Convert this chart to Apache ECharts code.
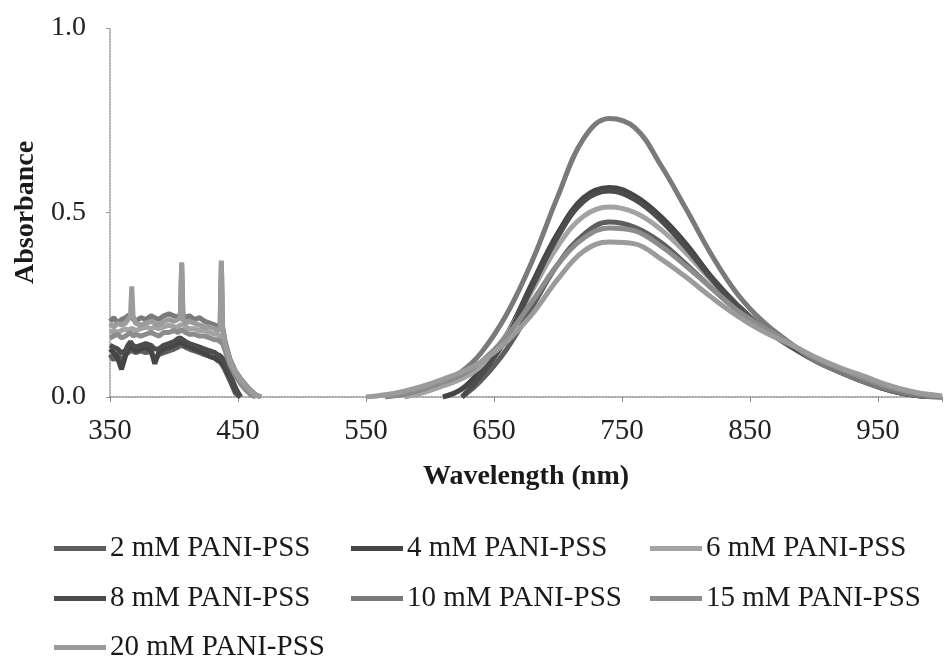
<!DOCTYPE html>
<html>
<head>
<meta charset="utf-8">
<script src="https://cdn.jsdelivr.net/npm/echarts@6/dist/echarts.min.js"></script>
<style>
html,body{margin:0;padding:0;background:#fff;}
#chart{width:945px;height:664px;}
</style>
</head>
<body>
<div id="chart"></div>
<script>
// ---- DATA ----
const seriesNames = ['2 mM PANI-PSS','4 mM PANI-PSS','6 mM PANI-PSS','8 mM PANI-PSS','10 mM PANI-PSS','15 mM PANI-PSS','20 mM PANI-PSS'];
const yTicks = [0, 0.5, 1.0];
const xTicks = [350, 450, 550, 650, 750, 850, 950];

// UV region wavelengths (nm)
const wlLeft = [350,353,356,359,362,364,366,367,368,370,374,378,382,385,388,392,396,400,403,405,406,407,409,412,416,420,424,428,432,434,436,437,438,440,444,448,452,456,460,464,468];
// Vis/NIR region wavelengths (nm)
const wlRight = [550,565,580,595,610,625,640,660,680,700,720,740,760,780,800,820,840,860,880,900,920,940,960,980,1000];

const left2mM  = [0.115,0.10,0.12,0.095,0.115,0.12,0.125,0.13,0.125,0.12,0.125,0.12,0.125,0.10,0.115,0.12,0.125,0.13,0.135,0.14,0.14,0.138,0.135,0.13,0.125,0.12,0.115,0.11,0.105,0.10,0.095,0.09,0.085,0.072,0.042,0.01,0,null,null,null,null];
const left4mM  = [0.13,0.12,0.105,0.075,0.11,0.13,0.135,0.14,0.13,0.125,0.13,0.135,0.125,0.09,0.12,0.13,0.135,0.14,0.145,0.15,0.148,0.145,0.14,0.138,0.13,0.125,0.118,0.11,0.105,0.10,0.098,0.095,0.09,0.08,0.05,0.018,0,null,null,null,null];
const left6mM  = [0.175,0.18,0.175,0.18,0.185,0.18,0.185,0.19,0.185,0.18,0.185,0.19,0.185,0.19,0.185,0.19,0.195,0.19,0.19,0.195,0.20,0.195,0.19,0.185,0.185,0.18,0.18,0.175,0.17,0.17,0.165,0.17,0.16,0.135,0.09,0.062,0.04,0.022,0.009,0,null];
const left8mM  = [0.14,0.135,0.13,0.12,0.125,0.14,0.15,0.145,0.14,0.135,0.14,0.145,0.14,0.13,0.13,0.14,0.145,0.15,0.158,0.16,0.158,0.155,0.15,0.145,0.14,0.135,0.13,0.125,0.12,0.115,0.112,0.11,0.105,0.092,0.06,0.025,0,null,null,null,null];
const left10mM = [0.205,0.215,0.20,0.21,0.215,0.22,0.225,0.215,0.21,0.205,0.215,0.21,0.22,0.215,0.21,0.22,0.225,0.22,0.215,0.225,0.36,0.225,0.215,0.22,0.21,0.215,0.205,0.20,0.195,0.19,0.195,0.365,0.19,0.15,0.10,0.07,0.05,0.033,0.018,0.006,0];
const left15mM = [0.16,0.165,0.17,0.16,0.165,0.17,0.175,0.17,0.165,0.17,0.165,0.17,0.175,0.17,0.165,0.175,0.175,0.18,0.175,0.18,0.185,0.18,0.175,0.17,0.17,0.165,0.165,0.16,0.155,0.155,0.15,0.15,0.145,0.125,0.085,0.058,0.036,0.019,0.006,0,null];
const left20mM = [0.20,0.19,0.20,0.195,0.20,0.21,0.22,0.30,0.22,0.20,0.195,0.20,0.205,0.20,0.195,0.205,0.21,0.205,0.21,0.215,0.365,0.21,0.20,0.205,0.20,0.195,0.19,0.19,0.185,0.18,0.185,0.37,0.18,0.145,0.095,0.068,0.048,0.03,0.016,0.005,0];

const right2mM  = [null,null,null,null,null,0,0.045,0.13,0.245,0.36,0.44,0.474,0.46,0.42,0.36,0.295,0.235,0.185,0.14,0.10,0.068,0.04,0.017,0.004,0];
const right4mM  = [null,null,null,null,0,0.022,0.075,0.17,0.31,0.445,0.54,0.568,0.545,0.49,0.415,0.325,0.25,0.19,0.145,0.10,0.07,0.04,0.018,0.004,0];
const right6mM  = [null,null,0,0.012,0.03,0.05,0.085,0.17,0.29,0.41,0.49,0.515,0.50,0.455,0.39,0.315,0.245,0.19,0.145,0.10,0.07,0.045,0.02,0.006,0];
const right8mM  = [null,null,null,null,null,0,0.06,0.16,0.30,0.435,0.53,0.558,0.535,0.48,0.405,0.32,0.245,0.188,0.143,0.10,0.068,0.04,0.017,0.004,0];
const right10mM = [null,0,0.008,0.022,0.042,0.07,0.12,0.225,0.37,0.545,0.70,0.755,0.73,0.63,0.51,0.385,0.28,0.205,0.15,0.10,0.068,0.04,0.018,0.005,0];
const right15mM = [null,0,0.01,0.022,0.04,0.06,0.095,0.165,0.26,0.36,0.43,0.458,0.45,0.41,0.355,0.295,0.235,0.19,0.148,0.108,0.078,0.05,0.026,0.01,0.002];
const right20mM = [0,0.006,0.016,0.03,0.048,0.068,0.095,0.15,0.225,0.32,0.395,0.42,0.415,0.375,0.325,0.27,0.22,0.178,0.145,0.11,0.08,0.055,0.03,0.012,0.003];

const leftSets  = [left2mM,left4mM,left6mM,left8mM,left10mM,left15mM,left20mM];
const rightSets = [right2mM,right4mM,right6mM,right8mM,right10mM,right15mM,right20mM];

// ---- STYLE ----
const colors = ['#5e5e5e','#454545','#a3a3a3','#4c4c4c','#7a7a7a','#8c8c8c','#9b9b9b'];
const FONT = "'Liberation Serif','Times New Roman',serif";
const legendCols = [54, 351, 650];
const legendRows = [534, 584, 633];

function zip(xs, ys){ return xs.map((x,i)=>[x, ys[i]]); }

const series = [];
seriesNames.forEach((n,i)=>{
  const base = {name:n, type:'line', showSymbol:false, symbol:'none',
    lineStyle:{width:5, color:colors[i]}, itemStyle:{color:colors[i]}, z: 2+i, clip:true};
  series.push(Object.assign({}, base, {data: zip(wlLeft, leftSets[i]), smooth:false}));
  series.push(Object.assign({}, base, {data: zip(wlRight, rightSets[i]), smooth:0.4}));
});

const legends = seriesNames.map((n,i)=>({
  data:[n], left: legendCols[i%3], top: legendRows[Math.floor(i/3)],
  icon:'rect', itemWidth:52, itemHeight:5, padding:0, selectedMode:false,
  textStyle:{fontFamily:FONT, fontSize:29, color:'#1a1a1a', padding:[0,0,0,-1]}
}));

const chart = echarts.init(document.getElementById('chart'), null, {renderer:'canvas'});
chart.setOption({
  animation:false,
  backgroundColor:'#fff',
  grid:{left:110, right:-5, top:28, bottom:267, containLabel:false},
  legend: legends,
  xAxis:{
    type:'value', min:xTicks[0], max:1000, interval:100,
    name:'Wavelength (nm)', nameLocation:'middle', nameGap:66,
    nameTextStyle:{fontFamily:FONT, fontSize:28, fontWeight:'bold', color:'#1a1a1a'},
    axisLine:{show:true, lineStyle:{color:'#888', type:'dotted', width:1.5}},
    axisTick:{show:true, length:5, lineStyle:{color:'#888'}},
    axisLabel:{fontFamily:FONT, fontSize:29, color:'#222', margin:20,
      formatter:v=> xTicks.indexOf(v)>=0 ? String(v) : ''},
    splitLine:{show:false}
  },
  yAxis:{
    type:'value', min:yTicks[0], max:yTicks[yTicks.length-1], interval:0.5,
    name:'Absorbance', nameLocation:'middle', nameGap:70, nameRotate:90,
    nameTextStyle:{fontFamily:FONT, fontSize:28, fontWeight:'bold', color:'#1a1a1a'},
    axisLine:{show:true, lineStyle:{color:'#999', type:'dotted', width:1.5}},
    axisTick:{show:true, length:4, lineStyle:{color:'#999'}},
    axisLabel:{fontFamily:FONT, fontSize:28, color:'#222', margin:24,
      formatter:v=>v.toFixed(1)},
    splitLine:{show:false}
  },
  series: series
});
</script>
</body>
</html>
